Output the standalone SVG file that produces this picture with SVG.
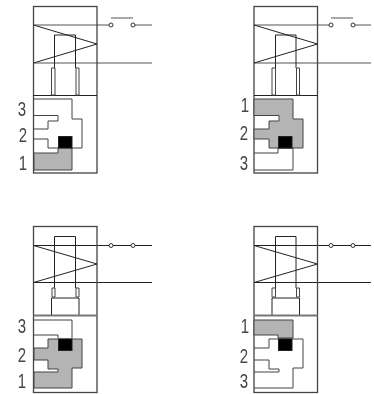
<svg xmlns="http://www.w3.org/2000/svg" width="374" height="394" viewBox="0 0 374 394">
<defs><filter id="soft" x="-5%" y="-5%" width="110%" height="110%"><feGaussianBlur stdDeviation="0.4"/></filter></defs>
<style>
g{filter:url(#soft)}
.l{fill:none;stroke:#222;stroke-width:1}
.t{fill:none;stroke:#555;stroke-width:1}
.b{fill:none;stroke:#444;stroke-width:1.3}
.o{fill:#fff;stroke:#444;stroke-width:1}
.g{fill:#b4b4b4;stroke:#444;stroke-width:1}
.w{fill:none;stroke:#444;stroke-width:1}
.k{fill:#000;stroke:#222;stroke-width:1}
.c{fill:#fff;stroke:#333;stroke-width:1}
text{font-family:"Liberation Sans",Arial,sans-serif;font-size:20px;fill:#444;text-anchor:middle}
</style>
<rect width="374" height="394" fill="#fff"/>
<g id="connectors">
<path class="t" d="M33.500 25H111M133 25H152M33.500 63H152M111 18H133"/>
<path class="t" d="M254 25H331M353 25H371M254 63H371M331 18H353"/>
<path class="l" d="M33.500 245.500H152M33.500 282.500H152"/>
<path class="l" d="M254 245.500H371M254 282.500H371"/>
</g>
<g id="node-top-left">
<rect class="b" x="33.500" y="6.500" width="63.500" height="166.500"/>
<path class="l" d="M33.500 25L97 44L33.500 63"/>
<path class="l" d="M54.500 68V35H75.500V68M33.500 95.500H97"/>
<path class="o" d="M51.500 68H55V95H51.500ZM76 68H79V95H76Z"/>
<circle class="c" cx="111" cy="25" r="2"/><circle class="c" cx="133" cy="25" r="2"/>
<path class="w" d="M34 99H72V119H82V148H48V139H34"/>
<path class="w" d="M34 115.500H58V121H48V129H34"/>
<path class="g" d="M34 153H58V148H72V170H34Z"/>
<rect class="k" x="58.500" y="136.500" width="13.500" height="11.500"/>
<text transform="translate(22 116) scale(.75 1)">3</text><text transform="translate(23 142) scale(.75 1)">2</text><text transform="translate(23 170) scale(.75 1)">1</text>
</g>
<g id="node-top-right">
<rect class="b" x="254" y="6.500" width="63.500" height="166.500"/>
<path class="l" d="M254 25L317.500 44L254 63"/>
<path class="l" d="M275.500 68V35H296V68M254 95.500H317.500"/>
<path class="o" d="M272 68H275.500V95H272ZM296.500 68H299.500V95H296.500Z"/>
<circle class="c" cx="331" cy="25" r="2"/><circle class="c" cx="353" cy="25" r="2"/>
<path class="g" d="M254 99H293V119H303V148H269V139H254V129H269V121H279V115.500H254Z"/>
<path class="w" d="M254 153H278V148H293V170H254"/>
<rect class="k" x="278.500" y="136.500" width="13.500" height="11.500"/>
<text transform="translate(245 112) scale(.75 1)">1</text><text transform="translate(244 140) scale(.75 1)">2</text><text transform="translate(244 170) scale(.75 1)">3</text>
</g>
<g id="node-bottom-left">
<rect class="b" x="33.500" y="226.500" width="63.500" height="166"/>
<path class="l" d="M33.500 245.500L97 264L33.500 282.500"/>
<path class="l" d="M54.500 288V236.500H75.500V288"/>
<path class="l" d="M51.500 315V298H79V315"/>
<path class="o" d="M52 288H55V297H52ZM76 288H79V297H76Z"/>
<path class="b" d="M33.500 315.500H97" style="stroke-width:2;stroke:#777"/>
<circle class="c" cx="111" cy="245.500" r="2"/><circle class="c" cx="133" cy="245.500" r="2"/>
<path class="w" d="M34 320H72V338M34 335H58V338"/>
<path class="g" d="M34 348H48V339H82V368H72V388H34V372H58V369H48V360H34Z"/>
<rect class="k" x="58.500" y="339" width="13.500" height="11.500"/>
<text transform="translate(22 333) scale(.75 1)">3</text><text transform="translate(22 362) scale(.75 1)">2</text><text transform="translate(22 388) scale(.75 1)">1</text>
</g>
<g id="node-bottom-right">
<rect class="b" x="254" y="226.500" width="63.500" height="166"/>
<path class="l" d="M254 245.500L317.500 264L254 282.500"/>
<path class="l" d="M275.500 288V236.500H296V288"/>
<path class="l" d="M272 315V298H299.500V315"/>
<path class="o" d="M272 288H275.500V297H272ZM296.500 288H299.500V297H296.500Z"/>
<path class="b" d="M254 315.500H317.500" style="stroke-width:2;stroke:#777"/>
<circle class="c" cx="331" cy="245.500" r="2"/><circle class="c" cx="353" cy="245.500" r="2"/>
<path class="g" d="M254 320H293V338H278V335H254Z"/>
<path class="w" d="M254 348H269V339H303V368H293V388H254M254 360H269V369H279V372H254"/>
<rect class="k" x="278.500" y="339" width="13.500" height="11.500"/>
<text transform="translate(245 333) scale(.75 1)">1</text><text transform="translate(244 363) scale(.75 1)">2</text><text transform="translate(244 388) scale(.75 1)">3</text>
</g>
</svg>
